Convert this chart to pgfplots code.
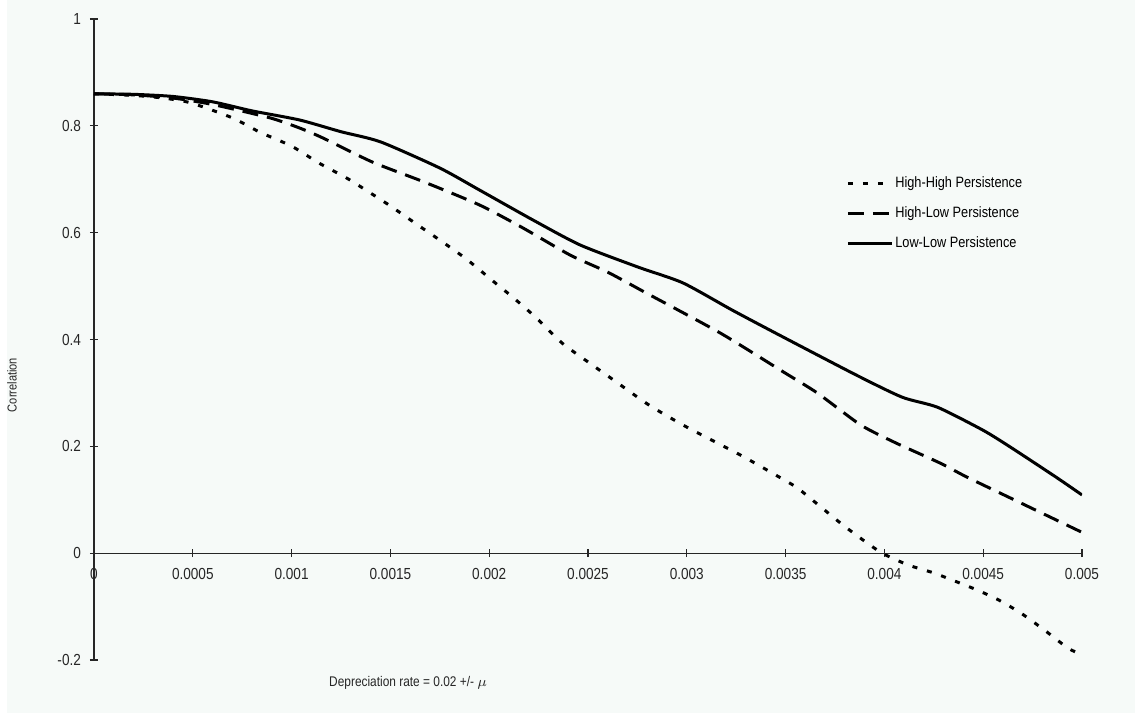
\documentclass[border=0pt]{standalone}
\usepackage{fontspec}
\setmainfont{Liberation Sans}[FakeStretch=0.85]
\usepackage{pgfplots}
\pgfplotsset{compat=1.18}
\definecolor{bgmint}{RGB}{246,250,248}
\begin{document}
\begin{tikzpicture}
\path[use as bounding box] (-47pt,-27pt) rectangle (520.5pt,330pt);
\fill[bgmint] (-43.5pt,-26.5pt) rectangle (520.5pt,330pt);
\begin{axis}[
  at={(0pt,0pt)}, anchor=south west,
  scale only axis, width=494pt, height=320.5pt,
  xmin=0, xmax=0.005, ymin=-0.2, ymax=1,
  axis lines=middle,
  axis line style={-, black!85, line width=0.6pt},
  hide obscured x ticks=false, hide obscured y ticks=false,
  scaled x ticks=false, scaled y ticks=false,
  xtick={0,0.0005,0.001,0.0015,0.002,0.0025,0.003,0.0035,0.004,0.0045,0.005},
  xticklabels={0,0.0005,0.001,0.0015,0.002,0.0025,0.003,0.0035,0.004,0.0045,0.005},
  ytick={-0.2,0,0.2,0.4,0.6,0.8,1},
  yticklabels={-0.2,0,0.2,0.4,0.6,0.8,1},
  tick style={black!85, line width=0.6pt},
  major tick length=4pt,
  tick label style={font=\fontsize{8}{9.5}\selectfont, text=black!85},
  xticklabel style={yshift=-2pt},
  yticklabel style={xshift=-1pt},
  xlabel={Depreciation rate = 0.02 +/- $\mu$},
  ylabel={Correlation},
  xlabel style={at={(rel axis cs:0.318,-0.036)}, anchor=center, font=\fontsize{7}{8}\selectfont, text=black!85},
  ylabel style={at={(rel axis cs:-0.083,0.429)}, anchor=center, rotate=90, font=\fontsize{6.5}{8}\selectfont, text=black!85},
  legend style={at={(rel axis cs:0.755,0.764)}, anchor=north west, draw=none, fill=none,
    font=\fontsize{7.5}{9}\selectfont, row sep=6pt, nodes={inner sep=1pt}},
  legend cell align=left,
  legend image code/.code={\draw[#1] (0pt,0pt) -- (22pt,0pt);},
  every axis plot/.append style={line width=1.5pt, black, smooth, tension=0.4},
]
\addplot[dash pattern=on 2.5pt off 5pt] coordinates {
(0,0.86) (0.0002,0.857) (0.00035,0.852) (0.00049,0.843) (0.0007,0.815) (0.00084,0.788)
(0.001,0.762) (0.00114,0.730) (0.00128,0.702) (0.0014,0.674) (0.0015,0.650) (0.00164,0.614)
(0.00177,0.581) (0.00189,0.549) (0.00205,0.500) (0.00212,0.479) (0.00224,0.440) (0.00237,0.393)
(0.0025,0.358) (0.00263,0.324) (0.00281,0.277) (0.003,0.236) (0.00327,0.184) (0.00347,0.142)
(0.00356,0.122) (0.00368,0.086) (0.00381,0.047) (0.00398,0.002) (0.00412,-0.022) (0.00425,-0.037)
(0.00432,-0.047) (0.00445,-0.066) (0.00457,-0.086) (0.00469,-0.112) (0.00481,-0.144) (0.00493,-0.178) (0.005,-0.19)
};
\addlegendentry{High-High Persistence}
\addplot[dash pattern=on 8pt off 4.5pt] coordinates {
(0,0.86) (0.0002,0.858) (0.0004,0.852) (0.0006,0.840) (0.00089,0.815) (0.00104,0.796)
(0.00116,0.777) (0.00141,0.732) (0.00167,0.695) (0.00195,0.652) (0.00217,0.609) (0.00241,0.558)
(0.0026,0.526) (0.0028,0.486) (0.00317,0.412) (0.00349,0.339) (0.00366,0.300) (0.00388,0.240)
(0.00406,0.206) (0.00428,0.169) (0.00442,0.142) (0.00469,0.094) (0.005,0.039)
};
\addlegendentry{High-Low Persistence}
\addplot[solid] coordinates {
(0,0.86) (0.0002,0.859) (0.0004,0.855) (0.0006,0.845) (0.0008,0.828) (0.00104,0.811)
(0.00125,0.789) (0.00145,0.770) (0.00175,0.721) (0.00195,0.680) (0.00222,0.624) (0.00246,0.577)
(0.00275,0.536) (0.00298,0.506) (0.00323,0.455) (0.00347,0.408) (0.00386,0.333) (0.00409,0.292)
(0.00427,0.273) (0.0045,0.230) (0.00464,0.198) (0.00487,0.142) (0.005,0.109)
};
\addlegendentry{Low-Low Persistence}
\end{axis}
\end{tikzpicture}
\end{document}
